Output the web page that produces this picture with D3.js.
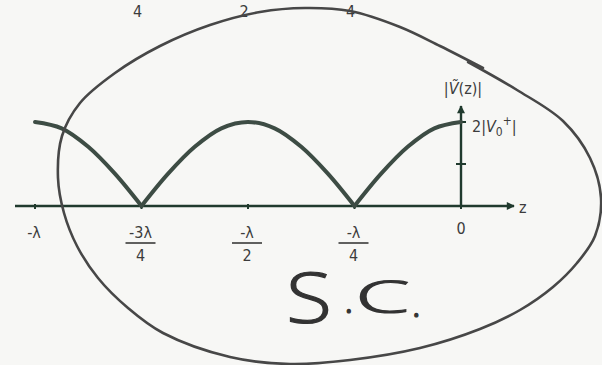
<!DOCTYPE html>
<html>
<head>
<meta charset="utf-8">
<script src="https://cdn.jsdelivr.net/npm/d3@7"></script>
<style>
  html, body { margin: 0; padding: 0; background: #f7f7f5; }
  svg { display: block; }
  .lbl { font-family: "DejaVu Sans Condensed", "Liberation Sans Narrow", "Liberation Sans", sans-serif; font-size: 16px; fill: #3c3c3c; }
</style>
</head>
<body>
<div id="chart"></div>
<script>
// standing-wave sketch: |V(z)| along the line, z in units of lambda
const zSamples = [-1, -0.9375, -0.875, -0.8125, -0.75, -0.6875, -0.625, -0.5625, -0.5,
                  -0.4375, -0.375, -0.3125, -0.25, -0.1875, -0.125, -0.0625, 0];
const vSamples = [2, 1.85, 1.41, 0.77, 0, 0.77, 1.41, 1.85, 2,
                  1.85, 1.41, 0.77, 0, 0.77, 1.41, 1.85, 2];

const zTicks = [-1, -0.75, -0.5, -0.25, 0];
const zNum   = ["-λ", "-3λ", "-λ", "-λ", "0"];
const zDen   = ["", "4", "2", "4", ""];
const vTicks = [1, 2];

// stray denominators cut off at the top of the page
const topTicks = [-0.75, -0.5, -0.25];
const topLbls  = ["4", "2", "4"];

// hand drawn loop around the plot (pixel points), open so the pen overlap shows
const loopPts = [[468, 62], [517, 90], [563, 121], [590, 158], [601, 198], [595, 236],
  [577, 263], [553, 287], [520, 310], [480, 329], [420, 348], [350, 360], [290, 364],
  [230, 357], [163, 333], [128, 308], [98, 278], [77, 246], [64, 213], [58, 178],
  [62, 136], [80, 103], [115, 73], [160, 46], [210, 25], [260, 12], [305, 8],
  [350, 11], [400, 27], [440, 46], [483, 68]];

const W = 602, H = 365;
const svg = d3.select("#chart").append("svg").attr("width", W).attr("height", H);

const x = d3.scaleLinear().domain([-1, 0]).range([35, 461]);
const y = d3.scaleLinear().domain([0, 2]).range([206, 122]);

const ink = "#203a2e";
const defs = svg.append("defs");
defs.append("marker").attr("id", "arr").attr("viewBox", "0 0 10 10")
  .attr("refX", 9).attr("refY", 5).attr("markerWidth", 10).attr("markerHeight", 8)
  .attr("markerUnits", "userSpaceOnUse").attr("orient", "auto")
  .append("path").attr("d", "M0,0L10,5L0,10z").attr("fill", ink);

// axes
svg.append("line").attr("x1", 15).attr("x2", 514).attr("y1", y(0)).attr("y2", y(0))
  .attr("stroke", ink).attr("stroke-width", 2.4).attr("marker-end", "url(#arr)");
svg.append("line").attr("x1", x(0)).attr("x2", x(0)).attr("y1", y(0)).attr("y2", 106)
  .attr("stroke", ink).attr("stroke-width", 2.4).attr("marker-end", "url(#arr)");

svg.append("g").selectAll("line").data(zTicks).join("line")
  .attr("x1", d => x(d)).attr("x2", d => x(d)).attr("y1", y(0) - 2).attr("y2", y(0) + 3)
  .attr("stroke", ink).attr("stroke-width", 2);
svg.append("g").selectAll("line").data(vTicks).join("line")
  .attr("x1", x(0) - 5).attr("x2", x(0) + 5).attr("y1", d => y(d)).attr("y2", d => y(d))
  .attr("stroke", ink).attr("stroke-width", 2);

// curve, drawn arch by arch so the nulls stay sharp
const pts = zSamples.map((z, i) => [z, vSamples[i]]);
const arches = [];
let cur = [];
pts.forEach((p, i) => {
  cur.push(p);
  if (p[1] === 0 && i > 0 && i < pts.length - 1) { arches.push(cur); cur = [p]; }
});
arches.push(cur);
const line = d3.line().x(d => x(d[0])).y(d => y(d[1])).curve(d3.curveCatmullRom.alpha(0.5));
svg.append("g").selectAll("path").data(arches).join("path")
  .attr("d", line).attr("fill", "none").attr("stroke", "#3d4c44")
  .attr("stroke-width", 4).attr("stroke-linecap", "round");

// tick labels
const lg = svg.append("g");
zTicks.forEach((t, i) => {
  const cx = x(t) + (t === 0 ? 0 : -1);
  if (zDen[i]) {
    lg.append("text").attr("class", "lbl").attr("x", cx).attr("y", 238).attr("text-anchor", "middle").text(zNum[i]);
    lg.append("line").attr("x1", cx - 15).attr("x2", cx + 15).attr("y1", 243).attr("y2", 243)
      .attr("stroke", "#3a3a3a").attr("stroke-width", 1.6);
    lg.append("text").attr("class", "lbl").attr("x", cx).attr("y", 261).attr("text-anchor", "middle").text(zDen[i]);
  } else {
    lg.append("text").attr("class", "lbl").attr("x", cx).attr("y", t === 0 ? 234 : 238)
      .attr("text-anchor", "middle").text(zNum[i]);
  }
});
svg.append("g").selectAll("text").data(topTicks).join("text").attr("class", "lbl")
  .attr("x", d => x(d) - 4).attr("y", 17).attr("text-anchor", "middle")
  .text((d, i) => topLbls[i]);

svg.append("text").attr("class", "lbl").attr("x", 519).attr("y", 213).text("z");

const yl = svg.append("text").attr("class", "lbl").attr("x", x(0) + 2).attr("y", 94)
  .attr("text-anchor", "middle");
yl.append("tspan").text("|");
yl.append("tspan").style("font-style", "italic").text("V\u0303");
yl.append("tspan").text("(z)|");

const ml = svg.append("text").attr("class", "lbl").attr("x", 472).attr("y", 132);
ml.append("tspan").text("2|");
ml.append("tspan").style("font-style", "italic").text("V");
ml.append("tspan").attr("dy", 4).style("font-size", "12px").text("0");
ml.append("tspan").attr("dy", -11).style("font-size", "12px").text("+");
ml.append("tspan").attr("dy", 7).text("|");

// the loop and the handwritten note
svg.append("path").datum(loopPts)
  .attr("d", d3.line().curve(d3.curveCatmullRom.alpha(0.5)))
  .attr("fill", "none").attr("stroke", "#474747").attr("stroke-width", 2.6)
  .attr("stroke-linecap", "round");

const note = svg.append("text").attr("x", 286).attr("y", 323)
  .style("font-family", "'Open Sans', 'DejaVu Sans', sans-serif").style("font-weight", 300)
  .attr("fill", "#333").attr("stroke", "#333").attr("stroke-width", 1.2);
note.append("tspan").style("font-size", "70px").attr("textLength", 46)
  .attr("lengthAdjust", "spacingAndGlyphs").text("S");
note.append("tspan").style("font-size", "40px").attr("dx", 12).attr("dy", -10).text(".");
note.append("tspan").style("font-size", "44px").attr("dx", 2).attr("textLength", 54)
  .attr("lengthAdjust", "spacingAndGlyphs").text("C");
note.append("tspan").style("font-size", "40px").attr("dx", 2).attr("dy", 4).text(".");
</script>
</body>
</html>
